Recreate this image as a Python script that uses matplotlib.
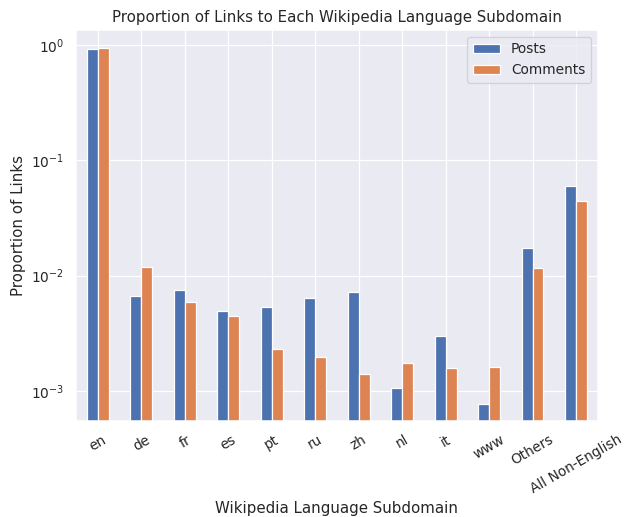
import pandas as pd
import matplotlib
matplotlib.use("Agg")
import matplotlib.pyplot as plt
import seaborn as sns

sns.set_theme()

subdomains = ["en", "de", "fr", "es", "pt", "ru", "zh", "nl", "it", "www",
              "Others", "All Non-English"]
posts = [0.92, 0.00665, 0.0075, 0.00493, 0.00535, 0.0064, 0.0072, 0.00106,
         0.0030, 0.00077, 0.0173, 0.060]
comments = [0.94, 0.0119, 0.0059, 0.00447, 0.00231, 0.00197, 0.0014, 0.00175,
            0.00158, 0.00161, 0.0116, 0.0444]

df = pd.DataFrame({"Posts": posts, "Comments": comments}, index=subdomains)

dpi = 90
fig, ax = plt.subplots(figsize=(624 / dpi, 517 / dpi), dpi=dpi)
df.plot(kind="bar", logy=True, ax=ax)

ax.set_ylim(0.00055, 1.35)
ax.set_title("Proportion of Links to Each Wikipedia Language Subdomain")
ax.set_xlabel("Wikipedia Language Subdomain")
ax.set_ylabel("Proportion of Links")
plt.xticks(rotation=30)
ax.legend(loc="upper right")

plt.subplots_adjust(left=0.122, right=0.958, top=0.942, bottom=0.186)
plt.savefig("out.png", dpi=dpi)
